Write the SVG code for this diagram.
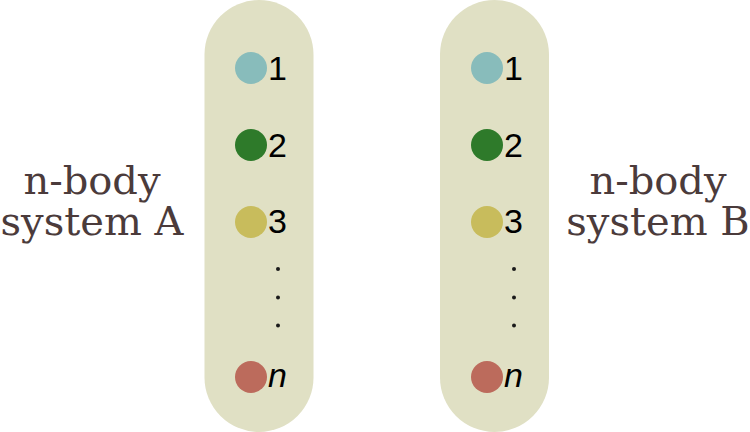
<svg xmlns="http://www.w3.org/2000/svg" width="750" height="432" viewBox="0 0 750 432">
<style>
.pill{fill:#e0e0c4}
.num{font-family:"Liberation Sans",Arial,sans-serif;font-size:34px;fill:#000}
.it{font-style:italic}
.dot{fill:#1a1a1a}
.lbl{font-family:"DejaVu Serif",serif;font-size:40px;fill:#4b3b3b;text-anchor:middle}
.c1{fill:#88bcbb}.c2{fill:#2e7a2a}.c3{fill:#c8bc5c}.cn{fill:#bc6b5c}
</style>
<g id="systemA">
<rect class="pill" x="204.5" y="0" width="109" height="432" rx="54.5"/>
<circle class="c1" cx="251" cy="68" r="16"/><text class="num" x="268" y="80">1</text>
<circle class="c2" cx="251" cy="145" r="16"/><text class="num" x="268" y="157">2</text>
<circle class="c3" cx="251" cy="222" r="16"/><text class="num" x="268" y="233">3</text>
<circle class="dot" cx="278" cy="269" r="2"/><circle class="dot" cx="278" cy="297.5" r="2"/><circle class="dot" cx="278" cy="325.5" r="2"/>
<circle class="cn" cx="251" cy="377" r="16"/><text class="num it" x="268" y="387">n</text>
</g>
<g id="systemB">
<rect class="pill" x="440" y="0" width="109" height="432" rx="54.5"/>
<circle class="c1" cx="487" cy="68" r="16"/><text class="num" x="504" y="80">1</text>
<circle class="c2" cx="487" cy="145" r="16"/><text class="num" x="504" y="157">2</text>
<circle class="c3" cx="487" cy="222" r="16"/><text class="num" x="504" y="233">3</text>
<circle class="dot" cx="514" cy="269" r="2"/><circle class="dot" cx="514" cy="297.5" r="2"/><circle class="dot" cx="514" cy="325.5" r="2"/>
<circle class="cn" cx="487" cy="377" r="16"/><text class="num it" x="504" y="387">n</text>
</g>
<g id="labelA"><text class="lbl" x="92" y="194">n-body</text><text class="lbl" x="92" y="235">system A</text></g>
<g id="labelB"><text class="lbl" x="658" y="194">n-body</text><text class="lbl" x="658" y="235">system B</text></g>
<g id="connectors"></g>
</svg>
